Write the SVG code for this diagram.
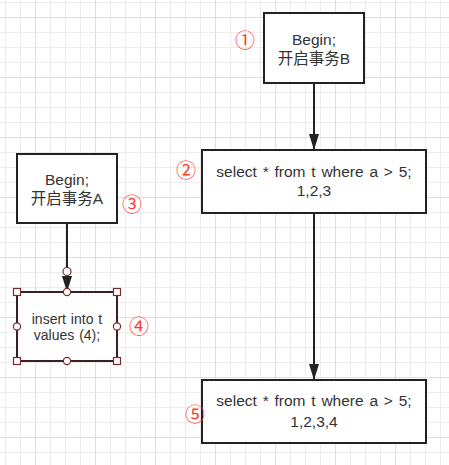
<svg xmlns="http://www.w3.org/2000/svg" width="449" height="465" viewBox="0 0 449 465">
<style>
.box{fill:#fff;stroke:#222;stroke-width:2}
.sel{fill:#fff;stroke:#3a2020;stroke-width:2}
.t{font-family:"Liberation Sans","Noto Sans CJK SC",sans-serif;font-size:15.5px;fill:#333;text-anchor:middle;word-spacing:1.5px}
.ts{font-family:"Liberation Sans","Noto Sans CJK SC",sans-serif;font-size:14px;fill:#333;text-anchor:middle;word-spacing:1px}
.num{font-family:"Noto Sans CJK SC",sans-serif;font-size:20px;fill:#ff3b2f;text-anchor:middle;dominant-baseline:central}
.conn{stroke:#222;stroke-width:2;fill:none}
.h{fill:#fff;stroke:#7a2a2a;stroke-width:1.2}
</style>
<defs>
<pattern id="minor" patternUnits="userSpaceOnUse" x="5" y="2" width="15" height="15">
<path d="M0.5 0V15M0 0.5H15" stroke="#ececec" stroke-width="1" fill="none"/>
</pattern>
<pattern id="major" patternUnits="userSpaceOnUse" x="35" y="17" width="60" height="60">
<path d="M0.5 0V60M0 0.5H60" stroke="#dedede" stroke-width="1" fill="none"/>
</pattern>
<marker id="arr" markerUnits="userSpaceOnUse" markerWidth="16" markerHeight="10" refX="16" refY="5" viewBox="0 0 16 10" orient="auto">
<path d="M0 0L16 5L0 10Z" fill="#222"/>
</marker>
</defs>
<rect width="449" height="465" fill="#fff"/>
<rect width="449" height="465" fill="url(#minor)"/>
<rect width="449" height="465" fill="url(#major)"/>
<g id="connectors">
<path class="conn" d="M314 83V150" marker-end="url(#arr)"/>
<path class="conn" d="M314 213V380" marker-end="url(#arr)"/>
<path class="conn" d="M67 223V292" marker-end="url(#arr)"/>
</g>
<g id="nodeB">
<rect class="box" x="264" y="13" width="100" height="70"/>
<text class="t" x="314" y="45">Begin;</text>
<text class="t" x="314" y="64">开启事务B</text>
</g>
<g id="nodeSel1">
<rect class="box" x="202" y="150" width="224" height="63"/>
<text class="t" x="314" y="177">select * from t where a &gt; 5;</text>
<text class="t" x="314" y="196">1,2,3</text>
</g>
<g id="nodeSel2">
<rect class="box" x="202" y="380" width="224" height="63"/>
<text class="t" x="314" y="406">select * from t where a &gt; 5;</text>
<text class="t" x="314" y="427">1,2,3,4</text>
</g>
<g id="nodeA">
<rect class="box" x="17" y="154" width="100" height="69"/>
<text class="t" x="67" y="185">Begin;</text>
<text class="t" x="67" y="204">开启事务A</text>
</g>
<g id="nodeInsert">
<rect class="sel" x="17" y="292" width="100" height="69"/>
<text class="ts" x="67" y="324">insert into t</text>
<text class="ts" x="67" y="340">values (4);</text>
<circle class="h" cx="67" cy="271.5" r="4"/>
<rect class="h" x="13.5" y="288.5" width="7" height="7"/>
<rect class="h" x="113.5" y="288.5" width="7" height="7"/>
<rect class="h" x="13.5" y="357.5" width="7" height="7"/>
<rect class="h" x="113.5" y="357.5" width="7" height="7"/>
<circle class="h" cx="67" cy="292" r="3.6"/>
<circle class="h" cx="67" cy="361" r="3.6"/>
<circle class="h" cx="17" cy="326.5" r="3.6"/>
<circle class="h" cx="117" cy="326.5" r="3.6"/>
</g>
<g id="labels">
<text class="num" x="245" y="39">①</text>
<text class="num" x="186" y="169">②</text>
<text class="num" x="132" y="203">③</text>
<text class="num" x="139" y="325">④</text>
<text class="num" x="195" y="413">⑤</text>
</g>
</svg>
